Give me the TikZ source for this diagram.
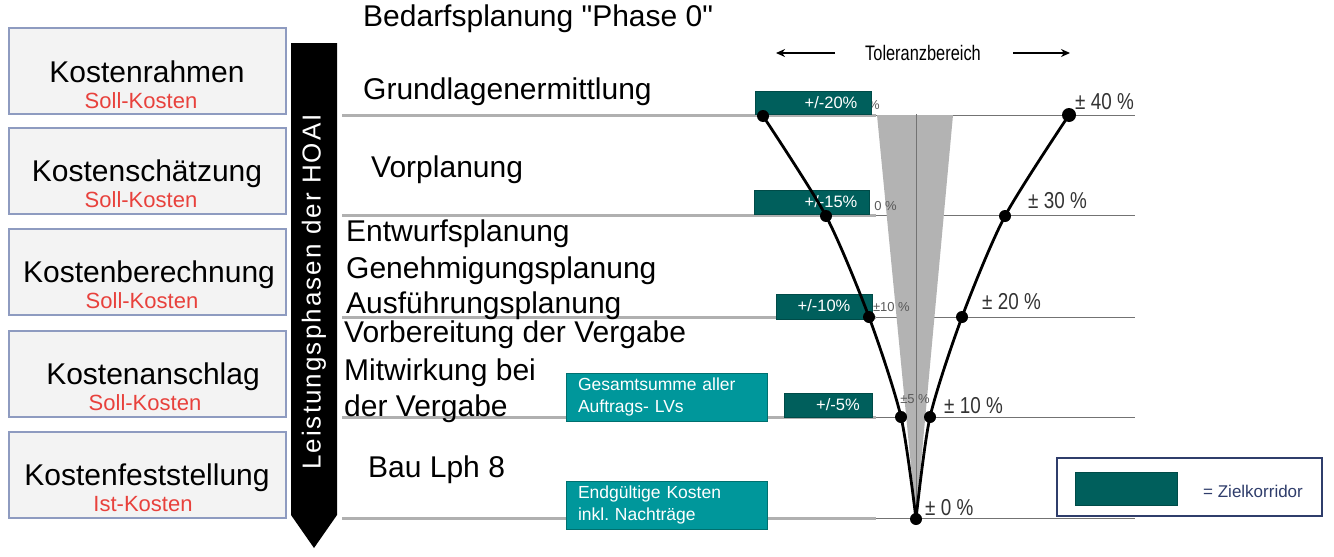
\documentclass[tikz,border=0pt]{standalone}
\usepackage{fontspec}
\setmainfont{Liberation Sans}
\newfontfamily\plainfont{Liberation Sans}
\newfontfamily\bandfont{Liberation Sans}[LetterSpace=8]
\usetikzlibrary{arrows.meta}
\definecolor{darkteal}{HTML}{005F5C}
\definecolor{darktealb}{HTML}{004B48}
\definecolor{lightteal}{HTML}{00979B}
\definecolor{lighttealb}{HTML}{00706F}
\definecolor{boxfill}{HTML}{F3F3F3}
\definecolor{boxborder}{HTML}{8E9BC0}
\definecolor{softred}{HTML}{E8413C}
\definecolor{navy}{HTML}{2F3D6B}
\definecolor{linegray}{HTML}{B0B0B0}
\definecolor{funnelgray}{HTML}{B3B3B3}
\newcommand\myfs[1]{\fontsize{#1}{#1}\selectfont}
\frenchspacing
\tikzset{
  costbox/.style={draw=boxborder, line width=1.2pt, fill=boxfill, minimum width=277pt, minimum height=86pt, inner sep=0pt},
  maintext/.style={anchor=base, inner sep=0pt, font=\myfs{30}},
  subtext/.style={anchor=base, inner sep=0pt, font=\myfs{22}, text=softred},
  phase/.style={anchor=base west, inner sep=0pt, font=\myfs{30}},
  pct/.style={anchor=base west, inner sep=0pt, text=black!80},
  smallpct/.style={anchor=base east, inner sep=0pt, font=\myfs{13}, text=black!65},
  tealbox/.style={draw=darktealb, line width=0.8pt, fill=darkteal, inner sep=0pt},
  tealtxt/.style={inner sep=0pt, font=\myfs{16.5}, text=white},
  lightbox/.style={draw=lighttealb, line width=1pt, fill=lightteal, text=white, font=\fontsize{17.5}{21.5}\selectfont, align=left, text width=177pt, inner xsep=12pt, inner ysep=0pt, minimum height=48pt, minimum width=201pt},
  dot/.style={circle, fill=black, inner sep=0pt, minimum size=12pt},
  thickline/.style={draw=linegray, line width=3pt},
  thinline/.style={draw=black!55, line width=0.8pt},
  curve/.style={draw=black, line width=2.8pt}
}
\newcommand\pcttext[1]{\scalebox{0.82}[1]{\myfs{23}#1}}
\begin{document}
\begin{tikzpicture}[x=1pt,y=-1pt]
\useasboundingbox (0,0) rectangle (1334,557);

% left cost boxes
\node[costbox] (k1) at (147.5,71) {};
\node[costbox] (k2) at (147.5,171) {};
\node[costbox] (k3) at (147.5,272) {};
\node[costbox] (k4) at (147.5,374) {};
\node[costbox] (k5) at (147.5,475) {};
\node[maintext] (k1m) at (147,82) {Kostenrahmen};
\node[subtext] (k1s) at (141,108) {Soll-Kosten};
\node[maintext] (k2m) at (147,181) {Kostenschätzung};
\node[subtext] (k2s) at (141,207) {Soll-Kosten};
\node[maintext] (k3m) at (149,282) {Kostenberechnung};
\node[subtext] (k3s) at (142,308) {Soll-Kosten};
\node[maintext] (k4m) at (153,384) {Kostenanschlag};
\node[subtext] (k4s) at (145,410) {Soll-Kosten};
\node[maintext] (k5m) at (147,485) {Kostenfeststellung};
\node[subtext] (k5s) at (143,511) {Ist-Kosten};

% black band arrow
\fill[black] (291,43) -- (337,43) -- (337,515) -- (314,548) -- (291,515) -- cycle;
\node[rotate=90, text=white, font={\bandfont\myfs{26}}, inner sep=0pt] (band) at (314,292) {Leistungsphasen der HOAI};

% horizontal lines
\foreach \yy in {115,215,317,417,518}{
  \draw[thickline] (342,\yy) -- (876,\yy);
  \draw[thinline] (876,\yy) -- (1135,\yy);
}

% funnel and axis
\fill[funnelgray] (877,115) -- (953,115) -- (916,518) -- cycle;
\coordinate (axtop) at (916,114);
\coordinate (axbot) at (916,518);
\draw[thinline] (axtop) -- (axbot);

% phase texts
\node[phase, font={\plainfont\myfs{30}}] (p0) at (363,26) {Bedarfsplanung "Phase 0"};
\node[phase] (p1) at (363,99) {Grundlagenermittlung};
\node[phase] (p2) at (371,177) {Vorplanung};
\node[phase] (p3) at (346,241) {Entwurfsplanung};
\node[phase] (p4) at (346,278) {Genehmigungsplanung};
\node[phase] (p5) at (346,313) {Ausführungsplanung};
\node[phase] (p6) at (344,342) {Vorbereitung der Vergabe};
\node[phase] (p7) at (344,380) {Mitwirkung bei};
\node[phase] (p7b) at (344,416) {der Vergabe};
\node[phase] (p8) at (368,477) {Bau Lph 8};

% Toleranzbereich
\node[inner sep=0pt, anchor=base] (tol) at (923,60) {\scalebox{0.78}[1]{\myfs{21}Toleranzbereich}};
\coordinate (tla) at (835,53);
\coordinate (tlb) at (776,53);
\coordinate (tra) at (1013,53);
\coordinate (trb) at (1070,53);
\draw[line width=2.4pt, -{Stealth[length=9pt,width=8pt]}] (tla) -- (tlb);
\draw[line width=2.4pt, -{Stealth[length=9pt,width=8pt]}] (tra) -- (trb);

% small gray labels (partially covered by the corridor boxes)
\node[smallpct] (s1) at (880,109) {\%};
\node[smallpct] (s2) at (897,210) {0 \%};
\node[smallpct] (s3) at (910,311) {±10 \%};
\node[smallpct] (s4) at (930,403) {±5 \%};

% dark teal corridor boxes
\node[tealbox, minimum width=116pt, minimum height=23pt] (b20) at (813,102.5) {};
\node[tealtxt] (t20) at (831,103) {+/-20\%};
\node[tealbox, minimum width=115pt, minimum height=24pt] (b15) at (811.5,202) {};
\node[tealtxt] (t15) at (831,202) {+/-15\%};
\node[tealbox, minimum width=96pt, minimum height=25pt] (b10) at (824,306.5) {};
\node[tealtxt] (t10) at (824,306) {+/-10\%};
\node[tealbox, minimum width=88pt, minimum height=24pt] (b5) at (828,405) {};
\node[tealtxt] (t5) at (838,405) {+/-5\%};

% light teal boxes
\node[lightbox] (g1) at (666.5,397) {Gesamtsumme aller\\Auftrags- LVs};
\node[lightbox] (g2) at (666.5,505) {Endgültige Kosten\\inkl. Nachträge};

% curve points
\coordinate (L1) at (763,116);
\coordinate (L2) at (826,216);
\coordinate (L3) at (869,317);
\coordinate (L4) at (901,417);
\coordinate (B0) at (916,519);
\coordinate (R1) at (1069,115);
\coordinate (R2) at (1005,216);
\coordinate (R3) at (962,317);
\coordinate (R4) at (930,417);
\draw[curve] plot[smooth, tension=0.45] coordinates {(L1) (L2) (L3) (L4) (B0)};
\draw[curve] plot[smooth, tension=0.45] coordinates {(R1) (R2) (R3) (R4) (B0)};
\foreach \pp in {L1,L2,L3,L4,B0,R2,R3,R4}{
  \node[dot] (d\pp) at (\pp) {};
}
\node[dot, minimum size=14pt] (dR1) at (R1) {};

% percentage labels
\node[pct] (q40) at (1075,109) {\pcttext{± 40 \%}};
\node[pct] (q30) at (1028,208) {\pcttext{± 30 \%}};
\node[pct] (q20) at (982,309) {\pcttext{± 20 \%}};
\node[pct] (q10) at (944,413) {\pcttext{± 10 \%}};
\node[pct] (q0) at (925,515) {\pcttext{± 0 \%}};

% legend
\node[draw=navy, line width=1.5pt, fill=white, minimum width=265pt, minimum height=58pt, inner sep=0pt] (leg) at (1189.5,487) {};
\node[tealbox, minimum width=102pt, minimum height=33pt] (legbox) at (1126,488.5) {};
\node[anchor=base west, inner sep=0pt, font=\myfs{17}, text=navy] (legtxt) at (1203,497) {= Zielkorridor};
\end{tikzpicture}
\end{document}
